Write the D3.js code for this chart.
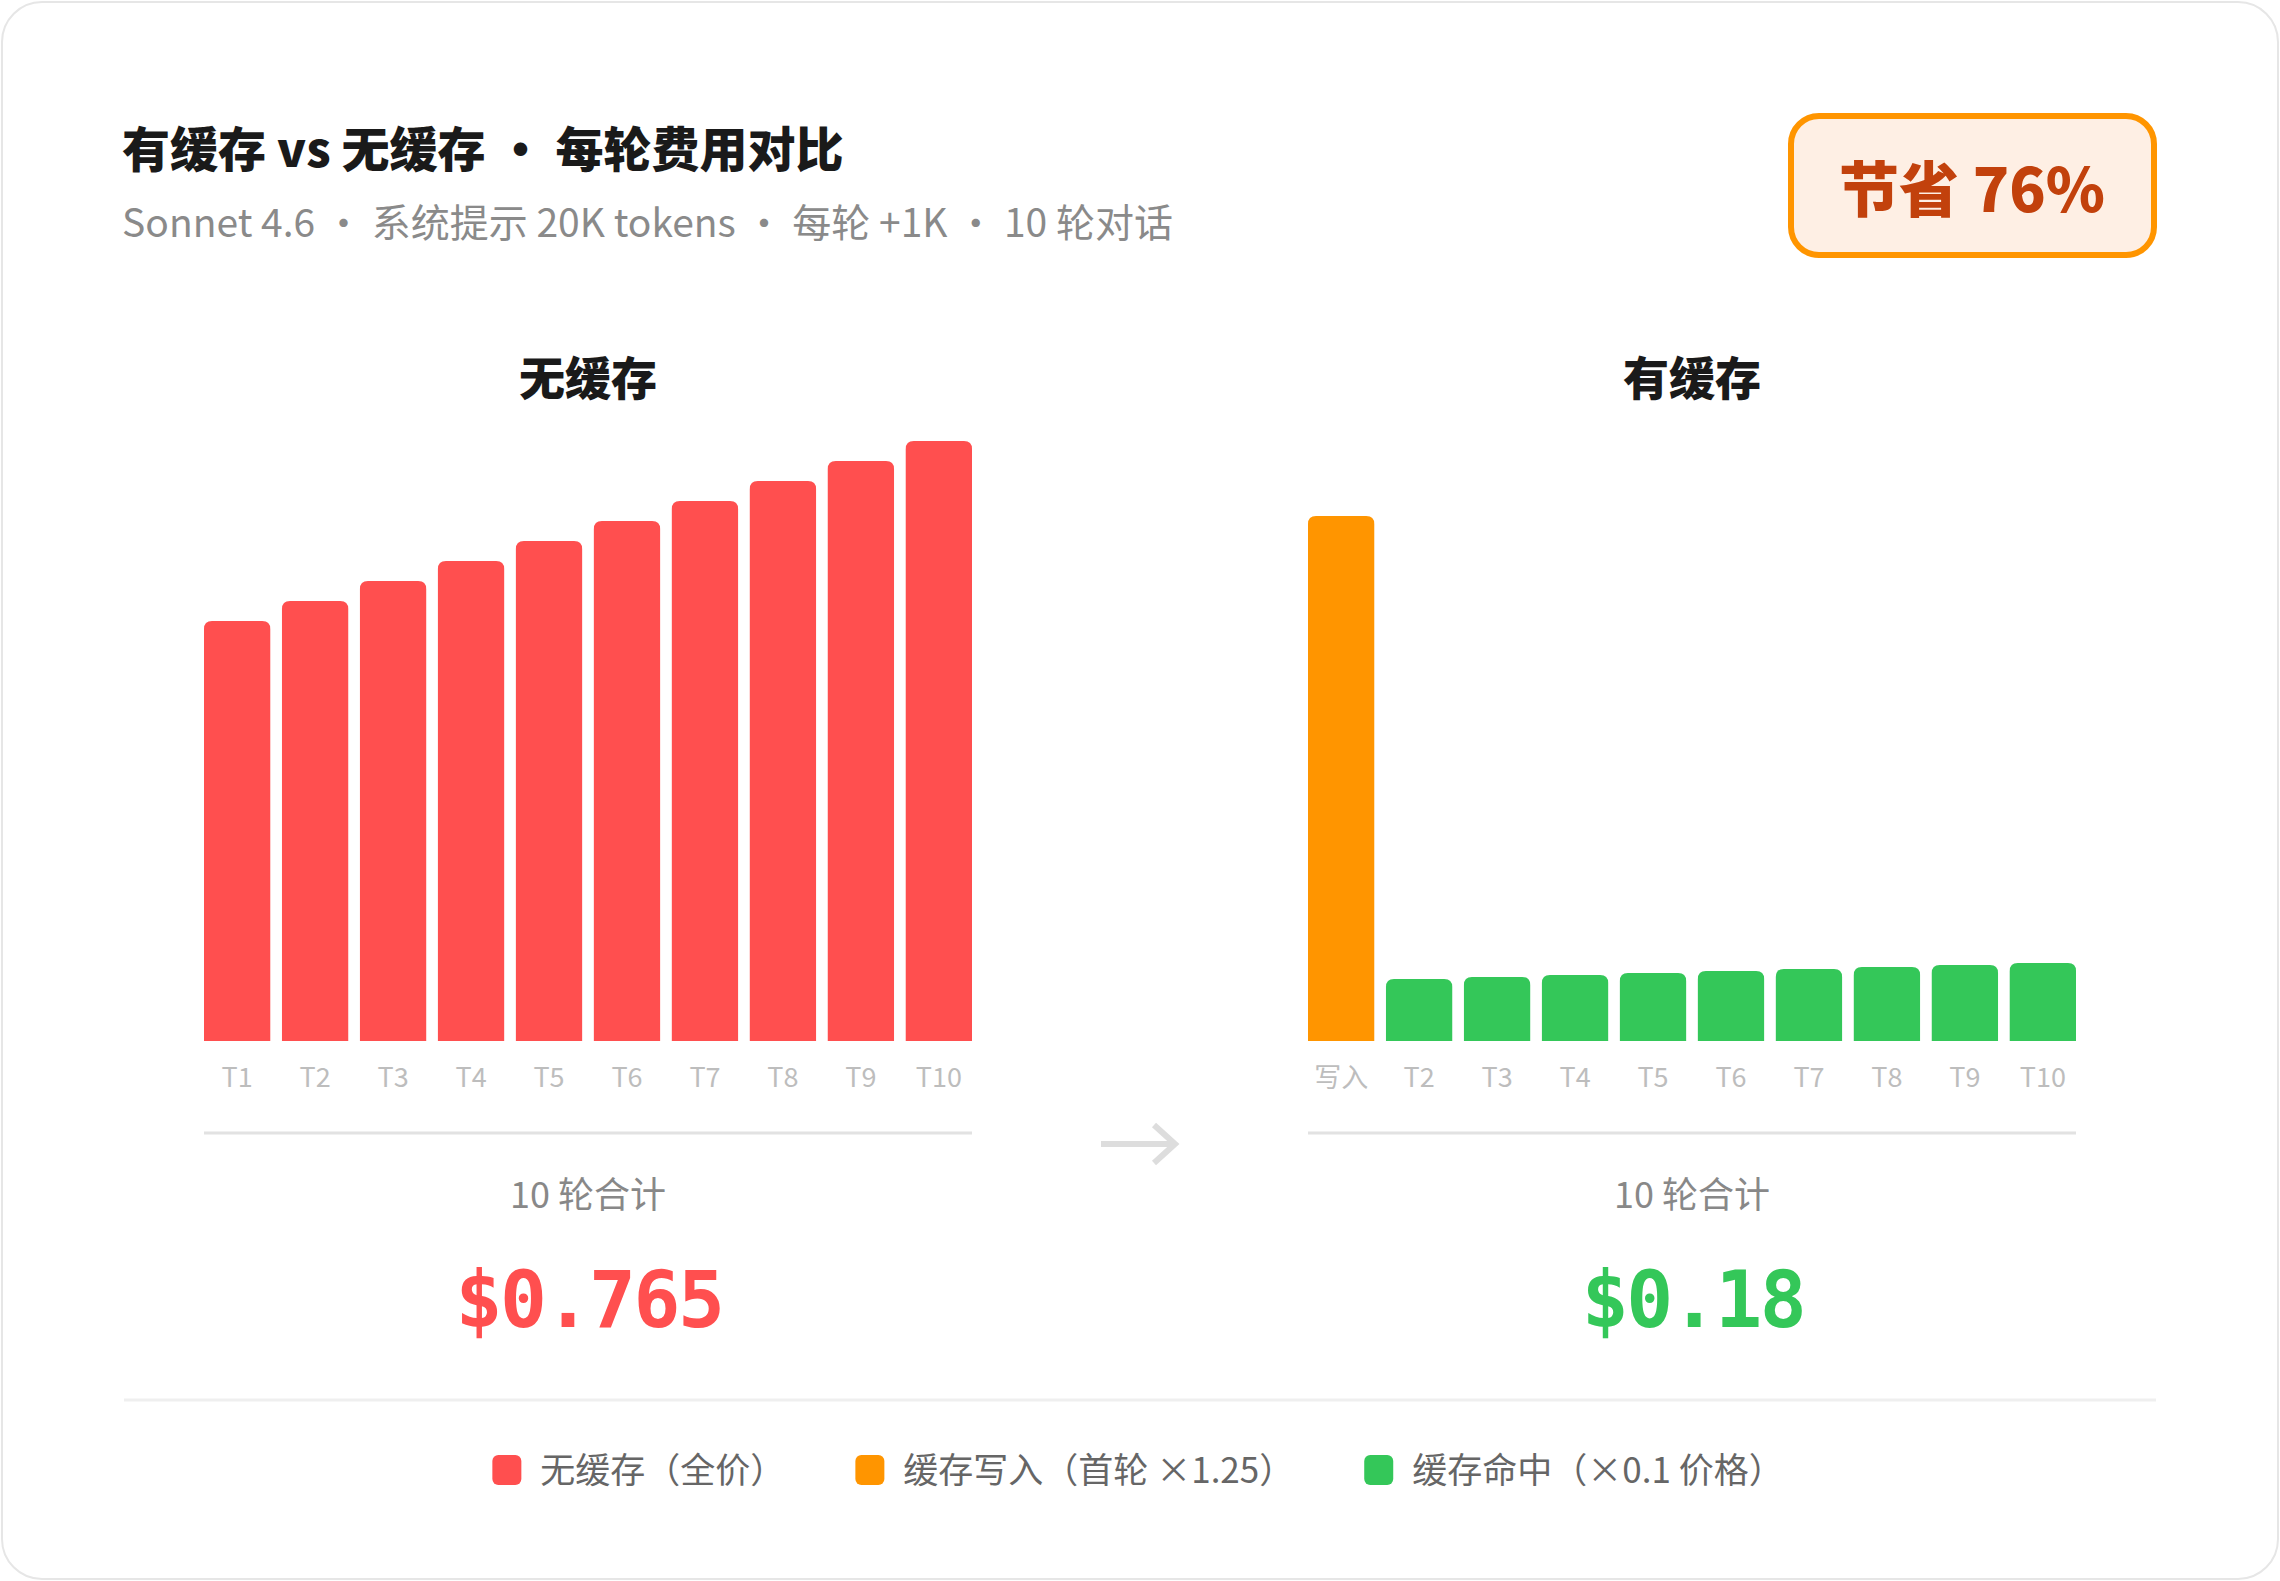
<!DOCTYPE html>
<html><head><meta charset="utf-8">
<script src="https://cdn.jsdelivr.net/npm/d3@7"></script>
<style>
html,body{margin:0;padding:0;background:#fff;}
svg{display:block;}
</style></head>
<body><svg id="c" width="2280" height="1581"></svg>
<script>
// ---------- data ----------
const turnLabels = ["T1","T2","T3","T4","T5","T6","T7","T8","T9","T10"];
const noCacheCost = [0.063,0.066,0.069,0.072,0.075,0.078,0.081,0.084,0.087,0.090];
const cacheLabels = ["写入","T2","T3","T4","T5","T6","T7","T8","T9","T10"];
const cacheCost = [0.07875,0.0093,0.0096,0.0099,0.0102,0.0105,0.0108,0.0111,0.0114,0.0117];
const cacheKind = ["write","hit","hit","hit","hit","hit","hit","hit","hit","hit"];
const totalsText = ["$0.765","$0.18"];
const panelTitles = ["无缓存","有缓存"];
const legendKeys = ["full","write","hit"];
const legendLabels = ["无缓存（全价）","缓存写入（首轮 ×1.25）","缓存命中（×0.1 价格）"];
const titleText = "有缓存 vs 无缓存 ・ 每轮费用对比";
const subtitleText = "Sonnet 4.6 ・ 系统提示 20K tokens ・ 每轮 +1K ・ 10 轮对话";
const badgeText = "节省 76%";
const sumLabel = "10 轮合计";

// ---------- styles ----------
const colors = {full:"#FF4F4F", write:"#FF9500", hit:"#34C759"};
const FONT = "'Noto Sans CJK SC','Noto Sans',sans-serif";
const MONO = "'DejaVu Sans Mono','Liberation Mono',monospace";

const svg = d3.select("#c");
const W = 2280, H = 1581;

// card
svg.append("rect").attr("x",2).attr("y",2).attr("width",W-4).attr("height",H-4)
  .attr("rx",40).attr("fill","#fff").attr("stroke","#e6e6e6").attr("stroke-width",2);

// title
svg.append("text").attr("x",122).attr("y",167).text(titleText)
  .attr("font-family",FONT).attr("font-size",48).attr("font-weight",900).attr("fill","#1a1a1a");
svg.append("text").attr("x",122).attr("y",237).text(subtitleText)
  .attr("font-family",FONT).attr("font-size",39).attr("font-weight",400).attr("fill","#8a8a8a");

// badge
svg.append("rect").attr("x",1791).attr("y",116).attr("width",363).attr("height",139)
  .attr("rx",28).attr("fill","#FEEFE4").attr("stroke","#FF9500").attr("stroke-width",6);
svg.append("text").attr("x",1972).attr("y",212).attr("text-anchor","middle").text(badgeText)
  .attr("font-family",FONT).attr("font-size",60).attr("font-weight",900).attr("fill","#C2410C");

// scales
const y = d3.scaleLinear().domain([0, d3.max(noCacheCost.concat(cacheCost))]).range([1041, 441]);
const panels = [
  {labels: turnLabels, values: noCacheCost, kinds: turnLabels.map(()=>"full"), range:[204,972], total: totalsText[0], totalColor: colors.full, title: panelTitles[0]},
  {labels: cacheLabels, values: cacheCost, kinds: cacheKind, range:[1308,2076], total: totalsText[1], totalColor: colors.hit, title: panelTitles[1]}
];

function topRounded(x, yTop, w, yBot, r){
  r = Math.min(r, w/2, (yBot-yTop));
  return `M${x},${yBot}V${yTop+r}Q${x},${yTop} ${x+r},${yTop}H${x+w-r}Q${x+w},${yTop} ${x+w},${yTop+r}V${yBot}Z`;
}

panels.forEach(p => {
  const x = d3.scaleBand().domain(p.labels).range(p.range).paddingInner(0.15).paddingOuter(0);
  const cx = (p.range[0]+p.range[1])/2;
  const g = svg.append("g");
  g.append("text").attr("x",cx).attr("y",395).attr("text-anchor","middle").text(p.title)
    .attr("font-family",FONT).attr("font-size",46).attr("font-weight",900).attr("fill","#1a1a1a");
  g.selectAll("path.bar").data(p.values).join("path").attr("class","bar")
    .attr("d",(d,i)=>topRounded(x(p.labels[i]), y(d), x.bandwidth(), y(0), 8))
    .attr("fill",(d,i)=>colors[p.kinds[i]]);
  const ax = g.append("g").attr("transform",`translate(0,${y(0)})`)
    .call(d3.axisBottom(x).tickSize(0).tickPadding(27));
  ax.select(".domain").remove();
  ax.selectAll("text").attr("font-family",FONT).attr("font-size",27).attr("fill","#bdbdbd");
  g.append("line").attr("x1",p.range[0]).attr("x2",p.range[1]).attr("y1",1133).attr("y2",1133)
    .attr("stroke","#e2e2e2").attr("stroke-width",3);
  g.append("text").attr("x",cx).attr("y",1208).attr("text-anchor","middle").text(sumLabel)
    .attr("font-family",FONT).attr("font-size",36).attr("fill","#888");
  g.append("text").attr("x",cx + 1).attr("y",1327).attr("text-anchor","middle").text(p.total)
    .attr("font-family",MONO).attr("font-size",78).attr("font-weight",700)
    .attr("letter-spacing","-2.5px").attr("fill",p.totalColor);
});

// arrow
svg.append("path").attr("d","M1101,1144H1175M1154,1125L1175,1144L1154,1163")
  .attr("fill","none").attr("stroke","#dddddd").attr("stroke-width",6);

// bottom divider
svg.append("line").attr("x1",124).attr("x2",2156).attr("y1",1400).attr("y2",1400)
  .attr("stroke","#efefef").attr("stroke-width",3);

// legend
const lg = svg.append("g");
let cur = 0;
const GAP = 70;
legendKeys.forEach((k,i)=>{
  const it = lg.append("g");
  it.append("rect").attr("x",0).attr("y",-15).attr("width",29).attr("height",30).attr("rx",6).attr("fill",colors[k]);
  const t = it.append("text").attr("x",48).attr("y",0).attr("dy","0.36em").text(legendLabels[i])
    .attr("font-family",FONT).attr("font-size",35).attr("fill","#666");
  const w = 48 + t.node().getComputedTextLength();
  it.attr("transform",`translate(${cur},0)`);
  cur += w + GAP;
});
const totalW = cur - GAP;
lg.attr("transform",`translate(${1138 - totalW/2},1470)`);
</script>
</body></html>
